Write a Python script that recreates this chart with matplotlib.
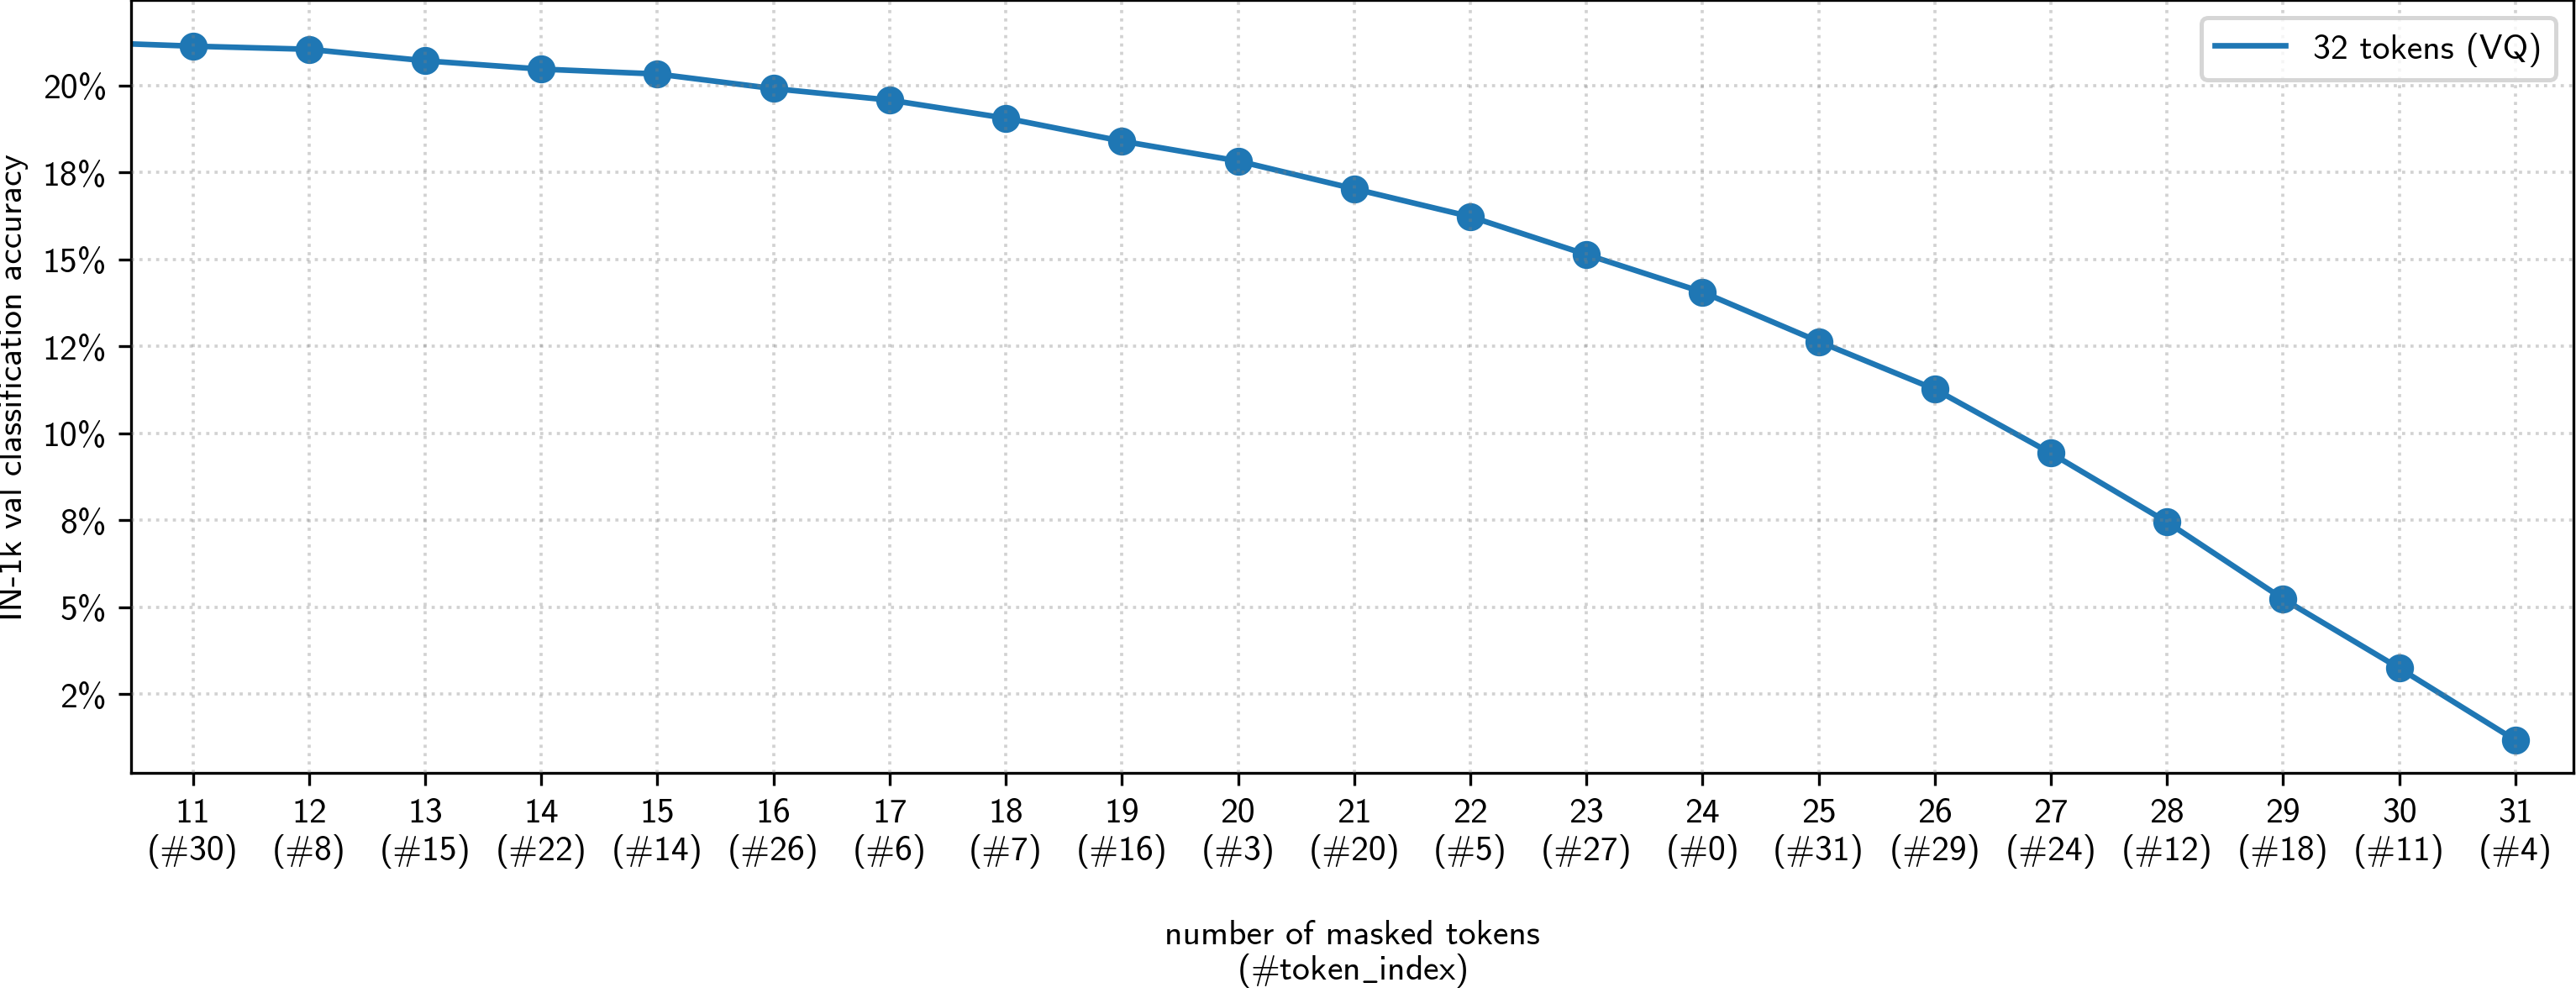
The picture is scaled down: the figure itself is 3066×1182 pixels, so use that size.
import matplotlib
matplotlib.use("Agg")
import matplotlib.pyplot as plt
from matplotlib.ticker import MultipleLocator, FuncFormatter

plt.rcParams["font.family"] = ["cmss10", "DejaVu Sans"]
plt.rcParams["mathtext.fontset"] = "cm"
plt.rcParams["axes.unicode_minus"] = False

# number of masked tokens (x=10 sits just outside the visible range)
masked = [10, 11, 12, 13, 14, 15, 16, 17, 18, 19, 20,
          21, 22, 23, 24, 25, 26, 27, 28, 29, 30, 31]
token_index = [None, 30, 8, 15, 22, 14, 26, 6, 7, 16, 3,
               20, 5, 27, 0, 31, 29, 24, 12, 18, 11, 4]
accuracy = [21.25, 21.13, 21.04, 20.71, 20.47, 20.33, 19.91, 19.58, 19.06, 18.40, 17.83,
            17.03, 16.23, 15.14, 14.06, 12.64, 11.27, 9.43, 7.45, 5.24, 3.25, 1.18]

fig, ax = plt.subplots(figsize=(10.22, 3.943), dpi=300)
fig.subplots_adjust(left=0.051, right=0.999, top=0.999, bottom=0.2215)

ax.plot(masked, accuracy, color="#1f77b4", lw=1.6, label="32 tokens (VQ)")
ax.plot(masked, accuracy, color="#1f77b4", lw=0, marker="o", ms=7)

ax.set_xlim(10.47, 31.5)
ax.set_ylim(0.24, 22.45)

ticks = masked[1:]
ax.set_xticks(ticks)
ax.set_xticklabels([f"{n}\n(#{i})" for n, i in zip(ticks, token_index[1:])])
ax.yaxis.set_major_locator(MultipleLocator(2.5))
ax.yaxis.set_major_formatter(FuncFormatter(lambda v, p: f"{v:.0f}%"))

ax.grid(True, linestyle=":", color="gray", alpha=0.35, lw=0.9)
ax.set_axisbelow(False)

ax.set_xlabel("number of masked tokens\n(#token$\\_$index)", labelpad=14.5, linespacing=1.05)
ax.set_ylabel("IN-1k val classification accuracy")
leg = ax.legend(loc="upper right", fancybox=True)
leg.get_frame().set_linewidth(1.2)

fig.savefig("out.png", dpi=300)
